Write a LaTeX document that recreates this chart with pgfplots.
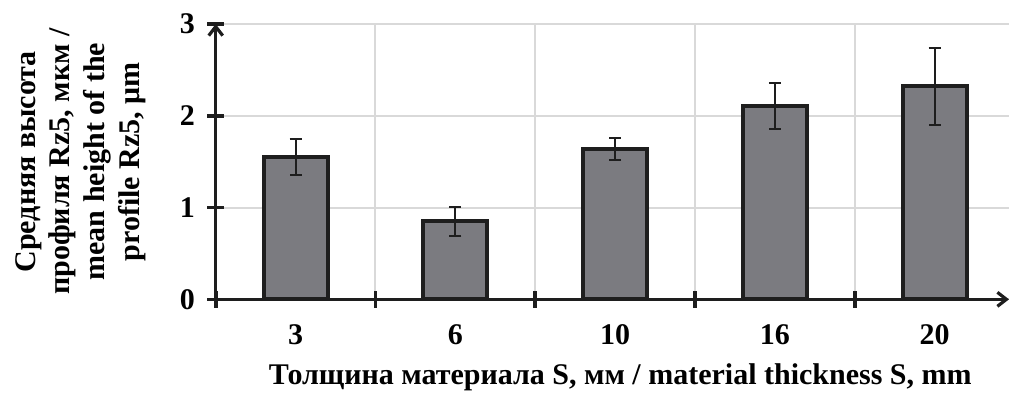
\documentclass[border=0pt]{standalone}
\usepackage{fontspec}
\setmainfont{Liberation Serif}
\usepackage{pgfplots}
\pgfplotsset{compat=1.18}
\usetikzlibrary{arrows.meta}
\definecolor{barfill}{HTML}{7B7B80}
\definecolor{baredge}{HTML}{1E1E1E}
\definecolor{gridc}{HTML}{D9D9D9}
\pgfplotstableread{
x y e
0 1.55 0.20
1 0.85 0.16
2 1.64 0.12
3 2.11 0.25
4 2.32 0.42
}\datatable
\begin{document}
\fontsize{15}{17.3}\selectfont\bfseries
\begin{tikzpicture}[font=\fontsize{15}{17.3}\selectfont\bfseries]
\begin{axis}[
  name=ax,
  scale only axis,
  width=396.6pt, height=137.65pt,
  xmin=-0.5, xmax=4.466, ymin=0, ymax=3,
  axis lines=left,
  x axis line style={line width=1.6pt, draw=baredge, -{Straight Barb[length=4.5pt,width=7pt]}},
  y axis line style={line width=1.6pt, draw=baredge, -{Straight Barb[length=4.5pt,width=7pt]}},
  xtick={-0.5,0.5,1.5,2.5,3.5},
  xticklabels={},
  extra x ticks={0,1,2,3,4},
  extra x tick labels={3,6,10,16,20},
  extra x tick style={grid=none, major tick length=0pt, xticklabel style={yshift=-7.5pt}},
  ytick={0,1,2,3},
  xmajorgrids, ymajorgrids,
  grid style={gridc, line width=1pt},
  tick align=center,
  major tick length=8.5pt,
  tick style={line width=1.8pt, draw=baredge},
  /pgf/number format/assume math mode=true,
  ticklabel style={font=\fontsize{15}{17.3}\selectfont\bfseries},
  yticklabel style={xshift=-1pt},
  every axis x label/.style={at={(axis description cs:0.510,-0.3095)}, anchor=base},
  every axis y label/.style={at={(axis description cs:-0.088,0.5)}, rotate=90, anchor=south, inner sep=0pt, align=center},
  xlabel={Толщина материала S, мм / material thickness S, mm},
  ylabel={Средняя высота\\профиля Rz5, мкм /\\mean height of the\\profile Rz5, μm},
]
\addplot[ybar, bar width=0.4, fill=barfill, draw=baredge, line width=2pt,
  error bars/.cd, y dir=both, y explicit,
  error bar style={line width=1pt, draw=baredge},
  error mark options={rotate=90, line width=1pt, mark size=3pt, draw=baredge}]
  table[x=x, y=y, y error=e] {\datatable};
\end{axis}
\pgfresetboundingbox
\path ([xshift=-107.85pt,yshift=-46.35pt]ax.south west) rectangle ([yshift=12pt]ax.north east);
\end{tikzpicture}
\end{document}
